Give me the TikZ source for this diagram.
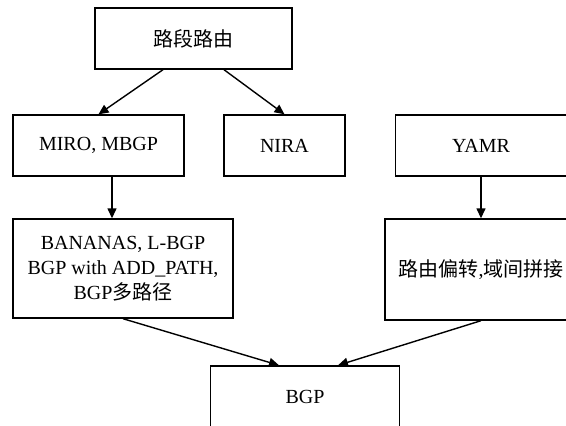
\documentclass[tikz,border=0pt]{standalone}
\usepackage{fontspec}
\setmainfont{Liberation Serif}
\newfontfamily\cjk{Noto Sans CJK SC}
\usetikzlibrary{arrows.meta}

\begin{document}
\begin{tikzpicture}[x=1pt, y=-1pt, line width=1.4pt,
    font=\fontsize{20}{25}\selectfont,
    box/.style={draw, inner sep=0pt, align=center, minimum height=61pt}]
    % Frame of the picture
    \useasboundingbox (0,0) rectangle (566,426);
    \clip (0,0) rectangle (566,426);

    % Blocks
    \node[box, minimum width=197pt] (route) at (193.5,38.5) {\cjk 路段路由};
    \node[box, minimum width=171pt] (miro) at (98.5,145.5) {MIRO, MBGP};
    \node[box, minimum width=121pt] (nira) at (284.5,145.5) {NIRA};
    \node[box, minimum width=171pt] (yamr) at (481,145.5) {YAMR};
    \node[box, minimum width=220pt, minimum height=99pt] (multi) at (123,268.5)
        {BANANAS, L-BGP\\BGP with ADD\_PATH,\\BGP{\cjk 多路径}};
    \node[box, minimum width=192pt, minimum height=101pt] (deflect) at (481,269.5)
        {{\cjk 路由偏转},{\cjk 域间拼接}};
    \node[box, minimum width=189pt] (bgp) at (305,396.5) {BGP};

    % Arrows
    \begin{scope}[->, >={Triangle[length=10pt,width=9pt]}]
        \draw ([xshift=-30.5pt]route.south) -- (miro.north);
        \draw ([xshift=30.5pt]route.south) -- (nira.north);
        \draw ([xshift=13.5pt]miro.south) -- ([xshift=13.5pt]miro.south |- multi.north);
        \draw (yamr.south) -- (deflect.north);
        \draw (multi.south) -- ([xshift=-26pt]bgp.north);
        \draw (deflect.south) -- ([xshift=33pt]bgp.north);
    \end{scope}

\end{tikzpicture}
\end{document}
